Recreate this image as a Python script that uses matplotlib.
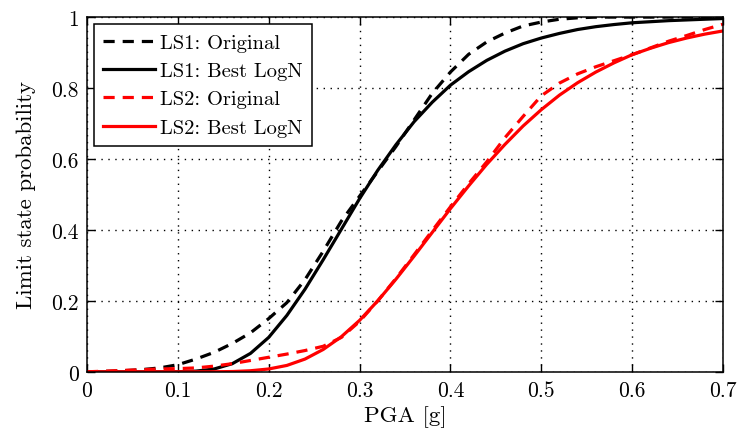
import matplotlib
matplotlib.use('Agg')
import matplotlib.pyplot as plt
from matplotlib.ticker import FuncFormatter

plt.rcParams['font.family'] = 'serif'
plt.rcParams['font.serif'] = ['cmr10', 'DejaVu Serif']
plt.rcParams['mathtext.fontset'] = 'cm'
plt.rcParams['axes.formatter.use_mathtext'] = True

# values
pga = [0, 0.02, 0.04, 0.06, 0.08, 0.10, 0.12, 0.14, 0.16, 0.18, 0.20, 0.22,
       0.24, 0.26, 0.28, 0.30, 0.32, 0.34, 0.36, 0.38, 0.40, 0.42, 0.44, 0.46,
       0.48, 0.50, 0.52, 0.54, 0.56, 0.58, 0.60, 0.62, 0.64, 0.66, 0.68, 0.70]

ls1_orig = [0, 0.001, 0.003, 0.006, 0.011, 0.02, 0.036, 0.055, 0.08, 0.11, 0.15, 0.195,
            0.26, 0.34, 0.425, 0.495, 0.565, 0.635, 0.71, 0.785, 0.845, 0.895, 0.93, 0.955,
            0.975, 0.986, 0.994, 0.998, 1.0, 1.0, 1.0, 1.0, 1.0, 1.0, 1.0, 1.0]
ls1_logn = [0, 0, 0, 0, 0, 0.0003, 0.002, 0.008, 0.023, 0.052, 0.097, 0.159,
            0.233, 0.316, 0.402, 0.488, 0.568, 0.640, 0.705, 0.760, 0.808, 0.846, 0.878, 0.904,
            0.925, 0.941, 0.954, 0.965, 0.973, 0.979, 0.984, 0.987, 0.990, 0.992, 0.994, 0.996]
ls2_orig = [0, 0.002, 0.004, 0.006, 0.008, 0.009, 0.011, 0.016, 0.023, 0.032, 0.041, 0.05,
            0.06, 0.072, 0.097, 0.142, 0.2, 0.263, 0.33, 0.398, 0.465, 0.53, 0.592, 0.66,
            0.72, 0.778, 0.814, 0.84, 0.86, 0.877, 0.894, 0.913, 0.932, 0.948, 0.965, 0.98]
ls2_logn = [0, 0, 0, 0, 0, 0, 0, 0.0002, 0.0008, 0.003, 0.008, 0.018,
            0.036, 0.063, 0.099, 0.145, 0.200, 0.261, 0.326, 0.393, 0.460, 0.524, 0.585, 0.641,
            0.693, 0.739, 0.780, 0.815, 0.845, 0.871, 0.894, 0.912, 0.928, 0.941, 0.952, 0.961]

fig = plt.figure(figsize=(7.37, 4.31), dpi=100)
ax = fig.add_axes([0.118, 0.135, 0.863, 0.823])

ax.plot(pga, ls1_orig, color='black', lw=2.3, dashes=(3.5, 2.5), label='LS1: Original')
ax.plot(pga, ls1_logn, color='black', lw=2.3, label='LS1: Best LogN')
ax.plot(pga, ls2_orig, color='red', lw=2.3, dashes=(3.5, 2.5), label='LS2: Original')
ax.plot(pga, ls2_logn, color='red', lw=2.3, label='LS2: Best LogN')

ax.set_xlim(0, 0.7)
ax.set_ylim(0, 1)
ax.set_xticks([0, 0.1, 0.2, 0.3, 0.4, 0.5, 0.6, 0.7])
ax.set_yticks([0, 0.2, 0.4, 0.6, 0.8, 1])
fmt = FuncFormatter(lambda v, p: '%g' % round(v, 2))
ax.xaxis.set_major_formatter(fmt)
ax.yaxis.set_major_formatter(fmt)
ax.tick_params(direction='in', top=True, right=True, length=6, width=1, labelsize=15.5, pad=6)
for s in ax.spines.values():
    s.set_linewidth(1.1)

ax.grid(True, color='black', lw=1.0, linestyle=(0, (1, 4)))
ax.set_axisbelow(True)

ax.set_xlabel('PGA [g]', fontsize=16.5, labelpad=4)
ax.set_ylabel('Limit state probability', fontsize=16.5, labelpad=11)

leg = ax.legend(loc='upper left', fontsize=14.8, fancybox=False, framealpha=1,
                edgecolor='black', handlelength=2.5, borderaxespad=0.35,
                labelspacing=0.48, handletextpad=0.25, borderpad=0.45)
leg.get_frame().set_linewidth(1.1)

fig.savefig('out.png', dpi=100)
